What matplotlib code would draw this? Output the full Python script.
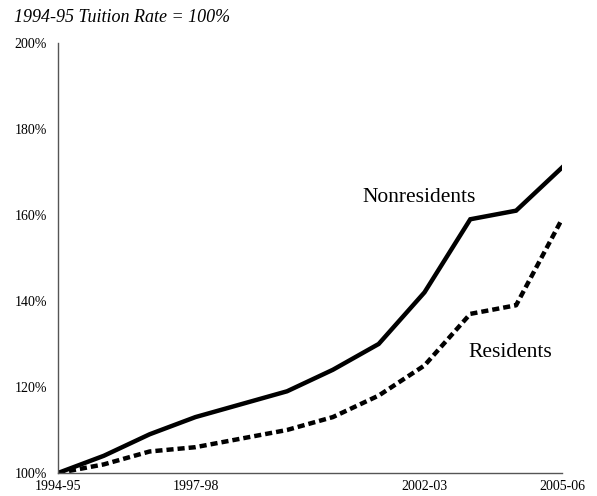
import matplotlib.pyplot as plt
from matplotlib.ticker import FuncFormatter

# tuition index, 1994-95 = 100%
years = ['1994-95', '1995-96', '1996-97', '1997-98', '1998-99', '1999-00',
         '2000-01', '2001-02', '2002-03', '2003-04', '2004-05', '2005-06']
nonresidents = [100, 104, 109, 113, 116, 119, 124, 130, 142, 159, 161, 171]
residents = [100, 102, 105, 106, 108, 110, 113, 118, 125, 137, 139, 159]
shown_labels = ['1994-95', '1997-98', '2002-03', '2005-06']

plt.rcParams['font.family'] = ['Liberation Serif', 'DejaVu Serif']

fig = plt.figure(figsize=(5.97, 4.96), dpi=100)
ax = fig.add_axes([0.0972, 0.0464, 0.844, 0.867])

x = list(range(len(years)))
ax.plot(x, nonresidents, color='black', lw=3.2, solid_joinstyle='miter')
ax.plot(x, residents, color='black', lw=3.2, ls=(0, (1.6, 0.9)))

ax.set_xlim(0, len(years) - 1)
ax.set_ylim(100, 200)
ax.set_yticks(range(100, 201, 20))
ax.yaxis.set_major_formatter(FuncFormatter(lambda v, p: f'{v:.0f}%'))
ax.set_xticks([years.index(s) for s in shown_labels])
ax.set_xticklabels(shown_labels)
ax.tick_params(axis='both', length=0, labelsize=10)
ax.tick_params(axis='y', pad=8)
ax.tick_params(axis='x', pad=5)

for side in ['top', 'right']:
    ax.spines[side].set_visible(False)
for side in ['left', 'bottom']:
    ax.spines[side].set_color('#555555')
    ax.spines[side].set_linewidth(1.0)

ax.text(6.65, 164, 'Nonresidents', fontsize=15.5, va='center', ha='left')
ax.text(8.95, 128, 'Residents', fontsize=15.5, va='center', ha='left')

fig.text(0.023, 0.965, '1994-95 Tuition Rate = 100%', fontsize=13,
         style='italic', va='center', ha='left')

fig.savefig('out.png', dpi=100)
